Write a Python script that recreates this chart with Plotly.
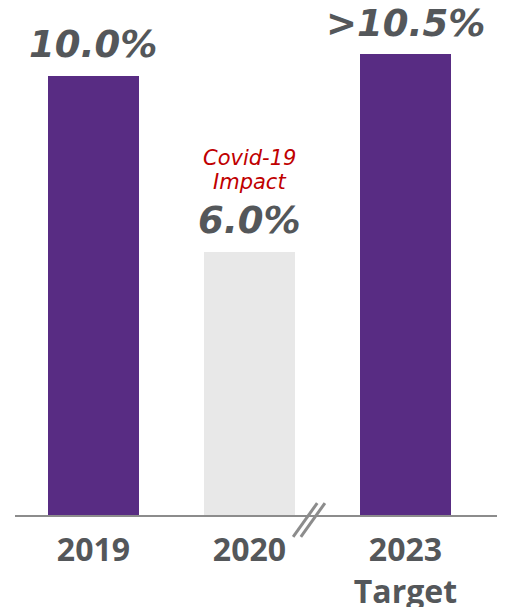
import plotly.graph_objects as go

# Data
CATEGORIES = ["2019", "2020", "2023<br>Target"]
VALUES = [10.0, 6.0, 10.5]
VALUE_LABELS = ["10.0%", "6.0%", ">10.5%"]
NOTE_LINES = ["Covid-19", "Impact"]

PURPLE = "#582c83"
LIGHT_GRAY = "#e8e8e8"
TEXT_GRAY = "#54575a"
AXIS_GRAY = "#8c8c8c"
RED = "#c00000"

bar_colors = [PURPLE, LIGHT_GRAY, PURPLE]
x_idx = list(range(len(CATEGORIES)))

fig = go.Figure(
    go.Bar(
        x=x_idx,
        y=VALUES,
        marker_color=bar_colors,
        marker_line_width=0,
        width=0.583,
        hoverinfo="skip",
    )
)

annotations = []
for x, v, label in zip(x_idx, VALUES, VALUE_LABELS):
    annotations.append(
        dict(
            x=x, y=v, xref="x", yref="y",
            text=label, showarrow=False,
            yanchor="middle", yshift=31,
            font=dict(family="DejaVu Sans", size=37, color=TEXT_GRAY,
                      weight="bold", style="italic"),
        )
    )
# two-line note above the 2020 bar
for line, shift in zip(NOTE_LINES, (94, 70)):
    annotations.append(
        dict(
            x=1, y=VALUES[1], xref="x", yref="y",
            text=line, showarrow=False,
            yanchor="middle", yshift=shift,
            font=dict(family="DejaVu Sans", size=21, color=RED, style="italic"),
        )
    )

# axis break marks "//"
shapes = []
for dx in (0.0, 0.016):
    shapes.append(
        dict(
            type="line", xref="paper", yref="paper",
            x0=0.577 + dx, y0=-0.044, x1=0.627 + dx, y1=0.024,
            line=dict(color=AXIS_GRAY, width=3),
        )
    )

# page body adds an 8px margin, so the figure is sized to fit inside the window
fig.update_layout(
    width=489,
    height=599,
    margin=dict(l=7, r=0, t=10, b=92),
    plot_bgcolor="white",
    paper_bgcolor="white",
    showlegend=False,
    bargap=0,
    annotations=annotations,
    shapes=shapes,
    xaxis=dict(
        range=[-0.503, 2.587],
        tickvals=x_idx,
        ticktext=CATEGORIES,
        automargin=False,
        showgrid=False,
        zeroline=False,
        showline=True,
        linecolor=AXIS_GRAY,
        linewidth=2,
        ticks="",
        ticklabelstandoff=6,
        tickfont=dict(family="Open Sans", size=32, color=TEXT_GRAY, weight="bold"),
    ),
    yaxis=dict(
        range=[0, 11.32],
        visible=False,
        automargin=False,
        showgrid=False,
        zeroline=False,
    ),
)

fig.write_html("out.html")
